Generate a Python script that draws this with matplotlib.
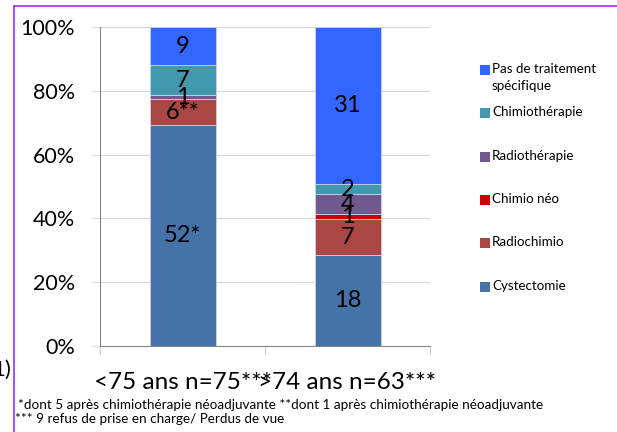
import matplotlib
matplotlib.use("Agg")
import matplotlib.pyplot as plt
from matplotlib.patches import Rectangle
from matplotlib.lines import Line2D
import numpy as np

plt.rcParams['font.family'] = ['Lato', 'DejaVu Sans']

categories = ["<75 ans n=75***", ">74 ans n=63***"]
series = ["Cystectomie", "Radiochimio", "Chimio néo", "Radiothérapie",
          "Chimiothérapie", "Pas de traitement\nspécifique"]
counts = {
    "Cystectomie":    [52, 18],
    "Radiochimio":    [6, 7],
    "Chimio néo":     [0, 1],
    "Radiothérapie":  [1, 4],
    "Chimiothérapie": [7, 2],
    "Pas de traitement\nspécifique": [9, 31],
}
value_labels = {
    "Cystectomie":    ["52*", "18"],
    "Radiochimio":    ["6**", "7"],
    "Chimio néo":     ["", "1"],
    "Radiothérapie":  ["1", "4"],
    "Chimiothérapie": ["7", "2"],
    "Pas de traitement\nspécifique": ["9", "31"],
}
colors = {
    "Cystectomie":    "#4572A7",
    "Radiochimio":    "#AA4643",
    "Chimio néo":     "#CC0000",
    "Radiothérapie":  "#71588F",
    "Chimiothérapie": "#4198AF",
    "Pas de traitement\nspécifique": "#3366FF",
}
footnote_1 = "*dont 5 après chimiothérapie néoadjuvante **dont 1 après chimiothérapie néoadjuvante"
footnote_2 = "*** 9 refus de prise en charge/ Perdus de vue"

fig = plt.figure(figsize=(6.17, 4.32), dpi=100)
ax = fig.add_axes([100/617, 1-346/432, 330/617, 319/432])

totals = np.sum([counts[s] for s in series], axis=0)
x = np.arange(len(categories))
bottom = np.zeros(len(categories))
for s in series:
    pct = np.array(counts[s]) / totals * 100
    bars = ax.bar(x, pct, 0.4, bottom=bottom, color=colors[s],
                  edgecolor="#C9D3E8", linewidth=0.6, zorder=3)
    ax.bar_label(bars, labels=value_labels[s], label_type="center",
                 fontsize=17, color="black", zorder=4)
    bottom += pct

ax.set_xlim(-0.5, 1.5)
ax.set_ylim(0, 100)
ax.set_yticks(np.arange(0, 101, 20))
ax.set_yticklabels([f"{v}%" for v in range(0, 101, 20)], fontsize=15.5)
ax.yaxis.grid(True, color="#D9D9D9", linewidth=0.9, zorder=0)
ax.tick_params(axis="y", length=6, color="#D9D9D9", pad=12)
ax.set_xticks(x)
ax.set_xticklabels(categories, fontsize=17.5)
ax.set_xticks([-0.5, 0.5, 1.5], minor=True)
ax.tick_params(axis="x", which="major", length=0, pad=19)
ax.tick_params(axis="x", which="minor", length=6, color="#BFBFBF")
for side in ["top", "right"]:
    ax.spines[side].set_visible(False)
ax.spines["left"].set_color("#868686")
ax.spines["bottom"].set_color("#868686")

# legend, top entry first
legend_y = [70, 113, 157, 200, 243, 287]
for s, yy in zip(series[::-1], legend_y):
    fig.patches.append(Rectangle((480/617, 1-(yy+5)/432), 10/617, 10/432,
                                 transform=fig.transFigure,
                                 facecolor=colors[s], edgecolor="none"))
    fig.text(492/617, 1-(yy-7)/432, s, fontsize=9.6, va="top", ha="left",
             linespacing=1.45)

fig.text(18/617, 1-405/432, footnote_1, fontsize=9.7, va="center", ha="left")
fig.text(15/617, 1-419/432, footnote_2, fontsize=9.7, va="center", ha="left")
fig.text(11/617, 1-370/432, "1)", fontsize=16, va="center", ha="right")

# frame lines
fig.lines.append(Line2D([14/617, 1], [1-6/432, 1-6/432], transform=fig.transFigure,
                        color="#9B30FF", linewidth=1.2))
fig.lines.append(Line2D([14/617, 14/617], [0, 1-6/432], transform=fig.transFigure,
                        color="#9B30FF", linewidth=1.2))

fig.savefig("out.png", dpi=100)
